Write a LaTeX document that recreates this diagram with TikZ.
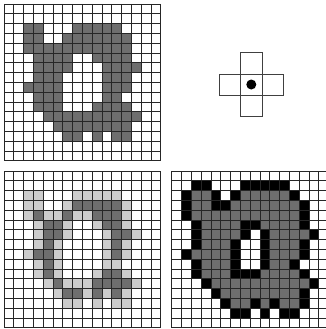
\documentclass[tikz,border=0pt]{standalone}
\definecolor{agray}{gray}{0.43}
\definecolor{lgray}{gray}{0.80}
\tikzset{
  gl/.style={line width=0.8pt, draw=black!85},
  crossbox/.style={line width=0.8pt, draw=black!75},
}
\newcommand\cellfill[4]{%
  \foreach \r/\cs in #4 {\foreach \c in \cs {%
    \fill[#3] ({#1+\c*9.8},{#2+\r*9.8}) rectangle ++(9.8,9.8);}}}
\newcommand\gridlines[2]{%
  \foreach \i in {0,...,16} {%
    \draw[gl] ({#1+\i*9.8},#2) -- ++(0,156.8);
    \draw[gl] (#1,{#2+\i*9.8}) -- ++(156.8,0);}}
\def\Acells{2/{2,3,7,8,9,10,11},3/{2,3,6,7,8,9,10,11,12},4/{2,3,4,5,6,7,8,9,10,11,12},5/{3,4,5,6,9,10,11,12},6/{3,4,5,6,10,11,12,13},7/{3,4,5,10,11,12},8/{2,3,4,5,10,11,12},9/{3,4,5,10,11},10/{3,4,5,9,10,11,12},11/{4,5,6,7,8,9,10,11,12,13},12/{5,6,7,8,9,10,11,12},13/{6,7,9,11,12}}
\def\Ecells{3/{7,8,9,10,11},4/{3,6,9,10,11},5/{4,5,10,11},6/{4,5,11,12},7/{4,11},8/{3,4,11},9/{4},10/{4,10,11},11/{5,9,10,11,12},12/{6,7,9,11}}
\def\Bcells{1/{2,3,7,8,9,10,11},2/{1,4,6,12},3/{1,4,5,13},4/{1,13},5/{2,7,8,13},6/{2,7,9,14},7/{2,6,9,13},8/{1,6,9,13},9/{2,6,9,12},10/{2,6,7,8,13},11/{3,14},12/{4,13},13/{5,8,10,13},14/{6,7,9,11,12}}
\begin{document}
\begin{tikzpicture}[x=1pt,y=-1pt]
\useasboundingbox (0,0) rectangle (326,329);
% top-left: original set
\cellfill{4}{4}{agray}{\Acells}
\gridlines{4}{4}
% bottom-left: boundary (light) and erosion (dark)
\cellfill{4}{171}{lgray}{\Acells}
\cellfill{4}{171}{agray}{\Ecells}
\gridlines{4}{171}
% bottom-right: set (gray) and dilation ring (black)
\cellfill{171.7}{171}{agray}{\Acells}
\cellfill{171.7}{171}{black}{\Bcells}
\gridlines{171.7}{171}
% structuring element
\draw[crossbox] (240.7,52.7) rectangle ++(21.2,21.2);
\draw[crossbox] (219.5,73.9) rectangle ++(21.2,21.2);
\draw[crossbox] (240.7,73.9) rectangle ++(21.2,21.2);
\draw[crossbox] (261.9,73.9) rectangle ++(21.2,21.2);
\draw[crossbox] (240.7,95.1) rectangle ++(21.2,21.2);
\fill[black] (251.3,84.5) circle (5);
\end{tikzpicture}
\end{document}
